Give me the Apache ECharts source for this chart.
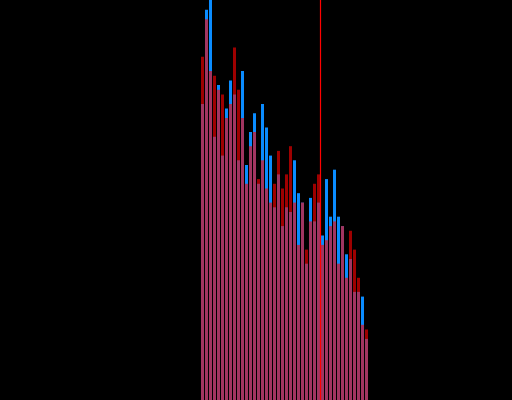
<!DOCTYPE html>
<html>
<head>
<meta charset="utf-8">
<script src="https://cdn.jsdelivr.net/npm/echarts@6/dist/echarts.min.js"></script>
<style>
  html, body { margin: 0; padding: 0; background: #000; }
  #chart { width: 512px; height: 400px; }
</style>
</head>
<body>
<div id="chart"></div>
<script>
// bin index of each histogram bar (42 bins)
const bins = [0, 1, 2, 3, 4, 5, 6, 7, 8, 9, 10, 11, 12, 13, 14, 15, 16, 17, 18, 19, 20,
  21, 22, 23, 24, 25, 26, 27, 28, 29, 30, 31, 32, 33, 34, 35, 36, 37, 38, 39, 40, 41]

// counts
const blueCounts = [63, 83, 90, 56, 67, 52, 62, 68, 65, 51, 70, 50, 57, 61, 46, 63, 58, 52, 41, 48, 37,
  41, 40, 51, 44, 42, 29, 43, 38, 42, 35, 47, 39, 49, 39, 37, 31, 30, 23, 23, 22, 13]
const redCounts = [73, 81, 70, 69, 66, 65, 60, 63, 75, 66, 60, 46, 54, 57, 47, 51, 45, 42, 46, 53, 45,
  48, 54, 42, 33, 42, 32, 38, 46, 48, 33, 34, 37, 38, 29, 37, 26, 36, 32, 26, 16, 15]

// threshold line position (bin edge)
const threshold = 30

const chart = echarts.init(document.getElementById('chart'))

const toPoints = counts => counts.map((v, i) => [bins[i] + 0.5, v])

chart.setOption({
  backgroundColor: '#000',
  animation: false,
  grid: { left: 200.5, width: 168, top: 0, bottom: 0 },
  xAxis: { type: 'value', min: 0, max: 42, show: false },
  yAxis: { type: 'value', min: 0, max: 85.1, show: false },
  series: [
    {
      type: 'bar',
      data: toPoints(blueCounts),
      barWidth: 3,
      barGap: '-100%',
      itemStyle: { color: '#0a8cff' }
    },
    {
      type: 'bar',
      data: toPoints(redCounts),
      barWidth: 3,
      barGap: '-100%',
      itemStyle: { color: 'rgba(255, 0, 0, 0.62)' },
      markLine: {
        symbol: 'none',
        silent: true,
        z: 10,
        label: { show: false },
        lineStyle: { color: '#ff0000', width: 1.2, type: 'solid', opacity: 1 },
        data: [{ xAxis: threshold }]
      }
    }
  ]
})
</script>
</body>
</html>
